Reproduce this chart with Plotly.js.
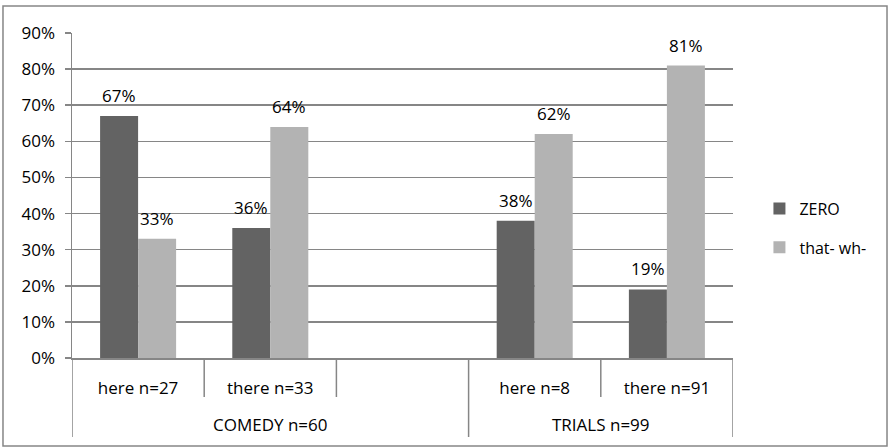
<!DOCTYPE html>
<html><head><meta charset="utf-8">
<script src="https://cdn.plot.ly/plotly-3.0.1.min.js"></script>
<style>html,body{margin:0;padding:0;background:#fff}#chart{width:889px;height:447px}</style>
</head><body><div id="chart"></div>
<script>
const subCategories = ["here n=27", "there n=33", "", "here n=8", "there n=91"];
const groupLabels = ["COMEDY n=60", "TRIALS n=99"];
const groupSpans = [[0, 2], [3, 4]];
const seriesNames = ["ZERO", "that- wh-"];
const zeroValues = [0.67, 0.36, null, 0.38, 0.19];
const thatWhValues = [0.33, 0.64, null, 0.62, 0.81];
const yTickVals = [0, 0.1, 0.2, 0.3, 0.4, 0.5, 0.6, 0.7, 0.8, 0.9];

const FONT = "Open Sans, Lato, sans-serif";
const GRAY = "#868686";
const BARGAP = 0.425;
const xIdx = subCategories.map((_, i) => i);
const colors = ["#636363", "#b3b3b3"];
const seriesValues = [zeroValues, thatWhValues];

const traces = seriesNames.map((name, k) => ({
  type: "bar",
  name: name,
  legendgroup: "g" + k,
  x: xIdx,
  y: seriesValues[k],
  marker: { color: colors[k], line: { width: 0 } },
  hoverinfo: "none"
}));

// data labels above each bar, positioned through the axes
const barW = (1 - BARGAP) / seriesNames.length;
const annotations = [];
seriesValues.forEach((vals, k) => {
  vals.forEach((v, i) => {
    if (v === null) return;
    annotations.push({
      text: Math.round(v * 100) + "%", xref: "x", yref: "y",
      x: i + (k - (seriesNames.length - 1) / 2) * barW, y: v,
      yanchor: "bottom", yshift: 7, showarrow: false,
      font: { family: FONT, size: 17, color: "#000" }
    });
  });
});
groupLabels.forEach((t, g) => annotations.push({
  text: t, xref: "x", yref: "paper",
  x: (groupSpans[g][0] + groupSpans[g][1]) / 2, y: -0.206,
  yanchor: "middle", showarrow: false,
  font: { family: FONT, size: 17, color: "#000" }
}));

// separators for the two-level category axis
const groupEdges = new Set();
groupSpans.forEach(s => { groupEdges.add(s[0] - 0.5); groupEdges.add(s[1] + 0.5); });
const shapes = [];
for (let i = 0; i <= subCategories.length; i++) {
  const b = i - 0.5;
  const isGroup = groupEdges.has(b);
  shapes.push({
    type: "line", xref: "x", yref: "paper",
    x0: b, x1: b, y0: 0, y1: isGroup ? -0.243 : -0.12,
    line: { color: GRAY, width: 1.5 }
  });
}
// outer chart frame
shapes.push({
  type: "rect", xref: "paper", yref: "paper",
  x0: -0.1044, x1: 1.233, y0: -0.2708, y1: 1.083,
  line: { color: GRAY, width: 1.5 }, fillcolor: "rgba(0,0,0,0)", layer: "below"
});

const layout = {
  width: 889, height: 447,
  margin: { l: 72, r: 156, t: 33, b: 89, pad: 0 },
  paper_bgcolor: "#fff", plot_bgcolor: "#fff",
  font: { family: FONT, size: 17, color: "#000" },
  barmode: "group", bargap: BARGAP, bargroupgap: 0,
  showlegend: true,
  legend: {
    x: 1.04, y: 0.512, xanchor: "left", yanchor: "top",
    traceorder: "grouped", tracegroupgap: 15,
    itemwidth: 30, font: { family: FONT, size: 16, color: "#000" }
  },
  xaxis: {
    range: [-0.5, 4.5], tickmode: "array", tickvals: xIdx, ticktext: subCategories,
    ticks: "", showgrid: false, zeroline: false,
    showline: true, linecolor: GRAY, linewidth: 1.5,
    ticklabelstandoff: 14, fixedrange: true
  },
  yaxis: {
    range: [0, 0.9], tickmode: "array", tickvals: yTickVals, tickformat: ".0%",
    ticks: "outside", ticklen: 6, tickcolor: GRAY, tickwidth: 1.5,
    showline: true, linecolor: GRAY, linewidth: 1.5,
    showgrid: true, gridcolor: GRAY, gridwidth: 1.5, zeroline: false,
    ticklabelstandoff: 6, fixedrange: true
  },
  shapes: shapes,
  annotations: annotations
};

Plotly.newPlot("chart", traces, layout, { displayModeBar: false, staticPlot: true });
</script>
</body></html>
